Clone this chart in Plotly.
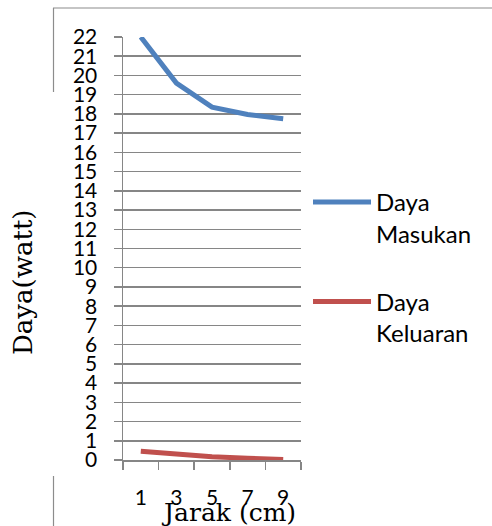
import plotly.graph_objects as go

# Data
jarak = ["1", "3", "5", "7", "9"]
daya_masukan = [22.0, 19.6, 18.35, 17.97, 17.75]
daya_keluaran = [0.45, 0.3, 0.17, 0.09, 0.03]
y_ticks = list(range(0, 23))
series_names = ["Daya<br>Masukan", "Daya<br>Keluaran"]

BLUE = "#4F81BD"
RED = "#C0504D"
GRID = "#868686"

fig = go.Figure()
fig.add_trace(go.Scatter(x=jarak, y=daya_masukan, mode="lines", name=series_names[0],
                         legendgroup="a",
                         line=dict(color=BLUE, width=5)))
fig.add_trace(go.Scatter(x=jarak, y=daya_keluaran, mode="lines", name=series_names[1],
                         legendgroup="b",
                         line=dict(color=RED, width=5)))

L, T, R, B = 123, 37, 301, 460
W, H = 492, 526
pw, ph = R - L, B - T

def px(x):
    return (x - L) / pw

def py(y):
    return (B - y) / ph

fig.update_layout(
    width=W, height=H,
    margin=dict(l=L, r=W - R, t=T, b=H - B, pad=0),
    paper_bgcolor="white", plot_bgcolor="white",
    font=dict(family="Lato", color="black"),
    showlegend=True,
    hovermode=False,
    legend=dict(x=px(308), y=py(180), xanchor="left", yanchor="top",
                font=dict(family="Lato", size=24, color="black"),
                valign="top", traceorder="grouped", tracegroupgap=34,
                itemwidth=58, bgcolor="rgba(0,0,0,0)"),
    xaxis=dict(type="category", range=[-0.5, 4.5], showgrid=False,
               showline=True, linecolor=GRID, linewidth=1.5,
               ticks="outside", ticklen=8, tickcolor=GRID, tickwidth=1.5,
               tickson="boundaries",
               tickfont=dict(family="Lato", size=21, color="black"),
               ticklabelstandoff=18, zeroline=False),
    yaxis=dict(range=[0, 22], tickvals=y_ticks, ticktext=[str(v) for v in y_ticks],
               showgrid=True, gridcolor=GRID, gridwidth=1.5,
               showline=True, linecolor=GRID, linewidth=1.5,
               ticks="outside", ticklen=8, tickcolor=GRID, tickwidth=1.5,
               tickfont=dict(family="Lato", size=21, color="black"),
               ticklabelstandoff=12, zeroline=False),
    annotations=[
        dict(text="Daya(watt)", xref="paper", yref="paper", x=px(23), y=py(283),
             xanchor="center", yanchor="middle", textangle=-90, showarrow=False,
             font=dict(family="DejaVu Serif", size=26, color="black")),
        dict(text="Jarak (cm)", xref="paper", yref="paper", x=px(228), y=py(512),
             xanchor="center", yanchor="middle", showarrow=False,
             font=dict(family="DejaVu Serif", size=25, color="black")),
    ],
    shapes=[
        dict(type="line", xref="paper", yref="paper", x0=px(53), x1=px(492), y0=py(8), y1=py(8),
             line=dict(color="#8C8C8C", width=1.2)),
        dict(type="line", xref="paper", yref="paper", x0=px(53.5), x1=px(53.5), y0=py(8), y1=py(92),
             line=dict(color="#8C8C8C", width=1.2)),
        dict(type="line", xref="paper", yref="paper", x0=px(53.5), x1=px(53.5), y0=py(476), y1=py(530),
             line=dict(color="#8C8C8C", width=1.2)),
    ],
)

fig.write_html("out.html", config={"displayModeBar": False, "staticPlot": True},
               post_script="document.body.style.margin='0';document.body.style.padding='0';")
